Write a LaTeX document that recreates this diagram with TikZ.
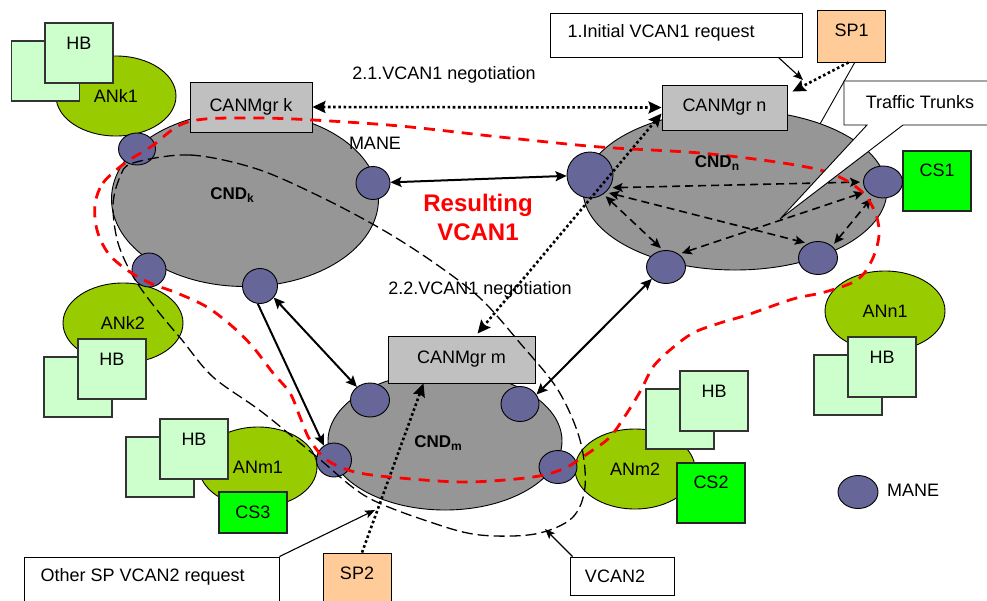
\documentclass[tikz,border=0pt]{standalone}
\usepackage{fontspec}
\setmainfont{Liberation Sans}
\usetikzlibrary{shapes.geometric,arrows.meta,calc}

\definecolor{cndgray}{RGB}{150,150,150}
\definecolor{mgrgray}{RGB}{192,192,192}
\definecolor{angreen}{RGB}{153,204,0}
\definecolor{hbgreen}{RGB}{204,255,204}
\definecolor{csgreen}{RGB}{0,255,0}
\definecolor{sporange}{RGB}{255,204,153}
\definecolor{manefill}{RGB}{102,102,153}

% domain label: bold CND with a small bold subscript
\newcommand{\cndlabel}[1]{\bfseries CND\raisebox{-3pt}{\fontsize{12}{12}\selectfont\bfseries #1}}

\tikzset{
  cndell/.style={ellipse, draw=black, line width=0.9pt, fill=cndgray, inner sep=0pt},
  anell/.style={ellipse, draw=black, line width=0.9pt, fill=angreen, inner sep=0pt,
                 minimum width=120pt, minimum height=80pt},
  maneell/.style={ellipse, draw=black, line width=0.9pt, fill=manefill, inner sep=0pt},
  mgrbox/.style={rectangle, draw=black, line width=0.9pt, fill=mgrgray, inner sep=0pt},
  hbbox/.style={rectangle, draw=black!80, line width=1.1pt, fill=hbgreen, inner sep=0pt,
                minimum width=68pt, minimum height=60pt},
  csbox/.style={rectangle, draw=black!85, line width=1.1pt, fill=csgreen, inner sep=0pt,
                minimum width=68pt},
  spbox/.style={rectangle, draw=black, line width=0.9pt, fill=sporange, inner sep=0pt,
                minimum width=68pt},
  callbox/.style={rectangle, draw=black, line width=0.9pt, fill=white, inner sep=0pt},
  linkline/.style={line width=2pt, >={Stealth[length=11pt,width=10pt,inset=2pt]}},
  msgline/.style={line width=2.6pt, dash pattern=on 2.6pt off 2.6pt,
              >={Stealth[length=13pt,width=12pt,inset=2pt]}},
  trunkline/.style={line width=1.6pt, dash pattern=on 8pt off 5pt, shorten <=3pt, shorten >=3pt,
                >={Stealth[length=10pt,width=9pt,inset=2pt]}},
  callarrow/.style={line width=1.1pt, -{Stealth[length=10pt,width=8pt,inset=2pt]}},
  vcanone/.style={red, line width=2.8pt, dash pattern=on 11pt off 8pt},
  vcantwo/.style={black, line width=1.3pt, dash pattern=on 11pt off 5pt},
}

\begin{document}
\begin{tikzpicture}[x=1pt, y=-1pt, font=\fontsize{18}{21.6}\selectfont]
\useasboundingbox (0,0) rectangle (987,600);
\clip (0,0) rectangle (987,600);
\fill[white] (0,0) rectangle (987,600);

% SP1 attachment line, behind domain n
\coordinate (sp1foot) at (820,124);
\draw[line width=0.9pt] (855,62) -- (sp1foot);

% core network domains
\node[cndell, minimum width=267pt, minimum height=175pt] (cndk) at (245,199) {};
\node[cndell, minimum width=304pt, minimum height=160pt] (cndn) at (735,190) {};
\node[cndell, minimum width=234pt, minimum height=138pt] (cndm) at (445,441) {};

% CAN managers
\node[mgrbox, minimum width=122pt, minimum height=50pt] (mgrk) at (251,107) {CANMgr k};
\node[mgrbox, minimum width=125pt, minimum height=45pt] (mgrn) at (724.5,107.5) {CANMgr n};
\node[mgrbox, minimum width=147pt, minimum height=47pt] (mgrm) at (461.5,359.5) {CANMgr m};

% access networks
\node[anell] (ank1) at (116,96) {ANk1};
\node[anell] (ank2) at (123,323) {ANk2};
\node[anell, minimum width=118pt] (anm1) at (258,467) {ANm1};
\node[anell] (anm2) at (635,469) {ANm2};
\node[anell] (ann1) at (885,311) {ANn1};

% home boxes
\node[hbbox] (hbk1b) at (45.5,71) {};
\node[hbbox] (hbk1f) at (79,53) {};
\node (hbk1t) at (79,43) {HB};
\node[hbbox] (hbk2b) at (78,387) {};
\node[hbbox] (hbk2f) at (112,369) {};
\node (hbk2t) at (112,359) {HB};
\node[hbbox] (hbm1b) at (160,467) {};
\node[hbbox] (hbm1f) at (194,449) {};
\node (hbm1t) at (194,439) {HB};
\node[hbbox] (hbm2b) at (680,419) {};
\node[hbbox] (hbm2f) at (714,401) {};
\node (hbm2t) at (714,391) {HB};
\node[hbbox] (hbn1b) at (848,385) {};
\node[hbbox] (hbn1f) at (882,367) {};
\node (hbn1t) at (882,357) {HB};

% content servers
\node[csbox, minimum height=60pt] (cs1) at (937,181) {};
\node (cs1t) at (937,170) {CS1};
\node[csbox, minimum height=60pt] (cs2) at (711,493) {};
\node (cs2t) at (711,482) {CS2};
\node[csbox, minimum height=41pt] (cs3) at (253,512.5) {CS3};

% service providers
\node[spbox, minimum height=52pt] (sp1) at (851.5,36) {};
\node (sp1t) at (851.5,30) {SP1};
\node[spbox, minimum height=60pt] (sp2) at (357,583) {};
\node (sp2t) at (357,573) {SP2};

% MANE nodes
\node[maneell, minimum width=37pt, minimum height=32pt] (k1) at (137,149) {};
\node[maneell, minimum width=34pt, minimum height=33pt] (k2) at (373,183) {};
\node[maneell, minimum width=34pt, minimum height=34pt] (k3) at (149,270) {};
\node[maneell, minimum width=35pt, minimum height=35pt] (k4) at (260,286) {};
\node[maneell, minimum width=46pt, minimum height=46pt] (n1) at (590,175) {};
\node[maneell, minimum width=39pt, minimum height=32pt] (n2) at (883,182) {};
\node[maneell, minimum width=39pt, minimum height=33pt] (n3) at (666,267) {};
\node[maneell, minimum width=39pt, minimum height=33pt] (n4) at (818,258) {};
\node[maneell, minimum width=39pt, minimum height=34pt] (m1) at (370,400) {};
\node[maneell, minimum width=38pt, minimum height=35pt] (m2) at (520,404) {};
\node[maneell, minimum width=35pt, minimum height=34pt] (m3) at (334,460) {};
\node[maneell, minimum width=38pt, minimum height=33pt] (m4) at (558,467) {};
\node[maneell, minimum width=40pt, minimum height=33pt] (manekey) at (858,492) {};

% traffic trunks inside domain n
\draw[trunkline,<->] (n1.-33) -- (n2.180);
\draw[trunkline,<->] (n1.-47) -- (n4.125);
\draw[trunkline,<->] (n1.-55) -- (n3.100);
\draw[trunkline,<->] (n3.45) -- (n2.-150);
\draw[trunkline,<->] (n4.40) -- (n2.-125);

% inter-domain links
\draw[linkline,<->] (k2) -- (n1);
\draw[linkline,<->] (k4.-40) -- (m1.135);
\draw[linkline,->] (k4.-97) -- (m3.125);
\draw[linkline,<->] (m2.30) -- (n3.-140);

% negotiation and request messages
\coordinate (sp1out) at ($(sp1.south)+(-3,0)$);
\coordinate (mgrnin) at ($(mgrn.north east)+(5,7)$);
\coordinate (sp2out) at ($(sp2.north)+(5,0)$);
\coordinate (mgrmin) at ($(mgrm.south)+(-38,0)$);
\draw[msgline,<->] (mgrk.east) -- (mgrn.west);
\draw[msgline,<->] ($(mgrn.west)+(0,6)$) -- ($(mgrm.north)+(16,-2)$);
\draw[msgline,->] (sp1out) -- (mgrnin);
\draw[msgline,->] (sp2out) -- (mgrmin);

% VCAN2 boundary
\draw[vcantwo] plot[smooth cycle, tension=0.55] coordinates {
  (133,163) (190,155) (257,169) (323,198) (383,230) (433,262) (480,298) (520,343)
  (558,390) (580,440) (585,487) (572,518) (535,534) (480,535) (433,523) (367,497)
  (317,457) (262,412) (213,377) (182,340) (157,310) (134,278) (118,243) (113,205)
  (120,177)};

% resulting VCAN1 boundary
\draw[vcanone] plot[smooth cycle, tension=0.55] coordinates {
  (95,205) (103,183) (125,163) (152,146) (178,126) (205,119) (260,118) (313,120)
  (400,126) (500,137) (600,147) (700,153) (783,163) (830,173) (860,190) (875,212)
  (879,235) (872,260) (857,280) (825,292) (793,299) (747,315) (720,323) (693,333)
  (670,350) (653,367) (641,390) (627,413) (610,437) (590,452) (565,468) (533,477)
  (467,482) (400,478) (355,472) (327,460) (310,440) (300,417) (290,393) (273,373)
  (253,347) (233,327) (207,307) (177,293) (150,283) (127,270) (108,253) (97,230)};

% traffic trunks callout (box with wedge), lying over the domain
\coordinate (wedgetip) at (780,219);
\draw[line width=0.9pt, fill=white] (844,81) -- (995,81) -- (995,125) -- (903,125)
  -- (wedgetip) -- (867,125) -- (844,125) -- cycle;
\node (trunkst) at (920,102) {Traffic Trunks};

% callout boxes
\node[callbox, minimum width=252pt, minimum height=44pt] (req1) at (676,35) {};
\node[anchor=west] (req1t) at (564,33) {1.Initial VCAN1 request};
\node[callbox, minimum width=255pt, minimum height=53pt] (req2) at (151.5,583.5) {};
\node[anchor=west] (req2t) at (37,577) {Other SP VCAN2 request};
\node[callbox, minimum width=104pt, minimum height=38pt] (vcbox) at (622,576) {};
\node (vcboxt) at (615,576) {VCAN2};

\coordinate (req1pt) at (803,80);
\coordinate (req2pt) at (375,510);
\coordinate (vcpt) at (545,529);
\draw[callarrow] ($(req1.south east)+(-24,0)$) -- (req1pt);
\draw[callarrow] (req2.north east) -- (req2pt);
\draw[callarrow] ($(vcbox.north west)+(3,0)$) -- (vcpt);

% labels
\node (neg1) at (444,75) {2.1.VCAN1 negotiation};
\node (neg2) at (480,290) {2.2.VCAN1 negotiation};
\node[align=center, text=red, font=\fontsize{24}{29}\selectfont\bfseries] (result) at (478,217) {Resulting\\VCAN1};
\node (manek) at (375,143) {MANE};
\node (manel) at (913,490) {MANE};
\node[font=\fontsize{17}{20}\selectfont] (cndkt) at (232,195) {\cndlabel{k}};
\node[font=\fontsize{17}{20}\selectfont] (cndnt) at (717,163) {\cndlabel{n}};
\node[font=\fontsize{17}{20}\selectfont] (cndmt) at (438,443) {\cndlabel{m}};
\end{tikzpicture}
\end{document}
